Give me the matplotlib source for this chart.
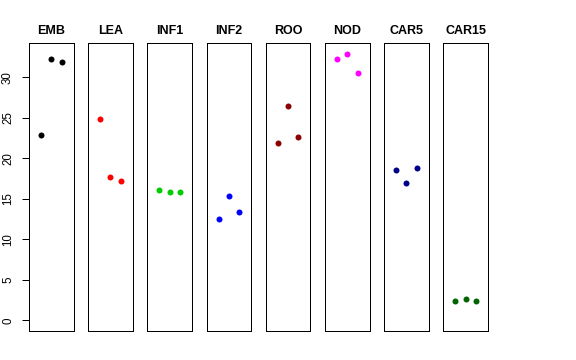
# Strip-style panels: three replicate values per tissue, shared y axis
import matplotlib.pyplot as plt

tissues = ["EMB", "LEA", "INF1", "INF2", "ROO", "NOD", "CAR5", "CAR15"]
colors = ["black", "red", "#00CD00", "blue", "#8B0000", "magenta", "#00008B", "#006400"]
emb = [22.9, 32.2, 31.9]
lea = [24.85, 17.7, 17.2]
inf1 = [16.1, 15.85, 15.8]
inf2 = [12.55, 15.4, 13.4]
roo = [21.9, 26.5, 22.6]
nod = [32.3, 32.9, 30.5]
car5 = [18.5, 16.9, 18.8]
car15 = [2.4, 2.6, 2.4]
values = [emb, lea, inf1, inf2, roo, nod, car5, car15]
reps = [1, 2, 3]
yticks = [0, 5, 10, 15, 20, 25, 30]

plt.rcParams['font.family'] = ['Liberation Sans', 'DejaVu Sans']

W, H = 576, 360
fig = plt.figure(figsize=(W / 72, H / 72), dpi=72)

left0, pw, step = 29, 44.5, 59.2
top, bottom = 43.3, 331

for i, (name, col, vals) in enumerate(zip(tissues, colors, values)):
    x0 = left0 + i * step
    ax = fig.add_axes([x0 / W, (H - bottom) / H, pw / W, (bottom - top) / H])
    ax.scatter(reps, vals, s=36, color=col, linewidths=0, zorder=3)
    ax.set_xlim(-0.16, 4.16)
    ax.set_ylim(-1.32, 34.2)
    ax.set_xticks([])
    for sp in ax.spines.values():
        sp.set_linewidth(1.0)
        sp.set_color("black")
    ax.set_title(name, fontsize=12.5, fontweight="bold", pad=9)
    if i == 0:
        ax.set_yticks(yticks)
        ax.set_yticklabels([str(t) for t in yticks], rotation=90, va="center", fontsize=11.5)
        ax.tick_params(axis="y", length=7, width=1, pad=8)
    else:
        ax.set_yticks([])

fig.savefig("out.png", dpi=72)
